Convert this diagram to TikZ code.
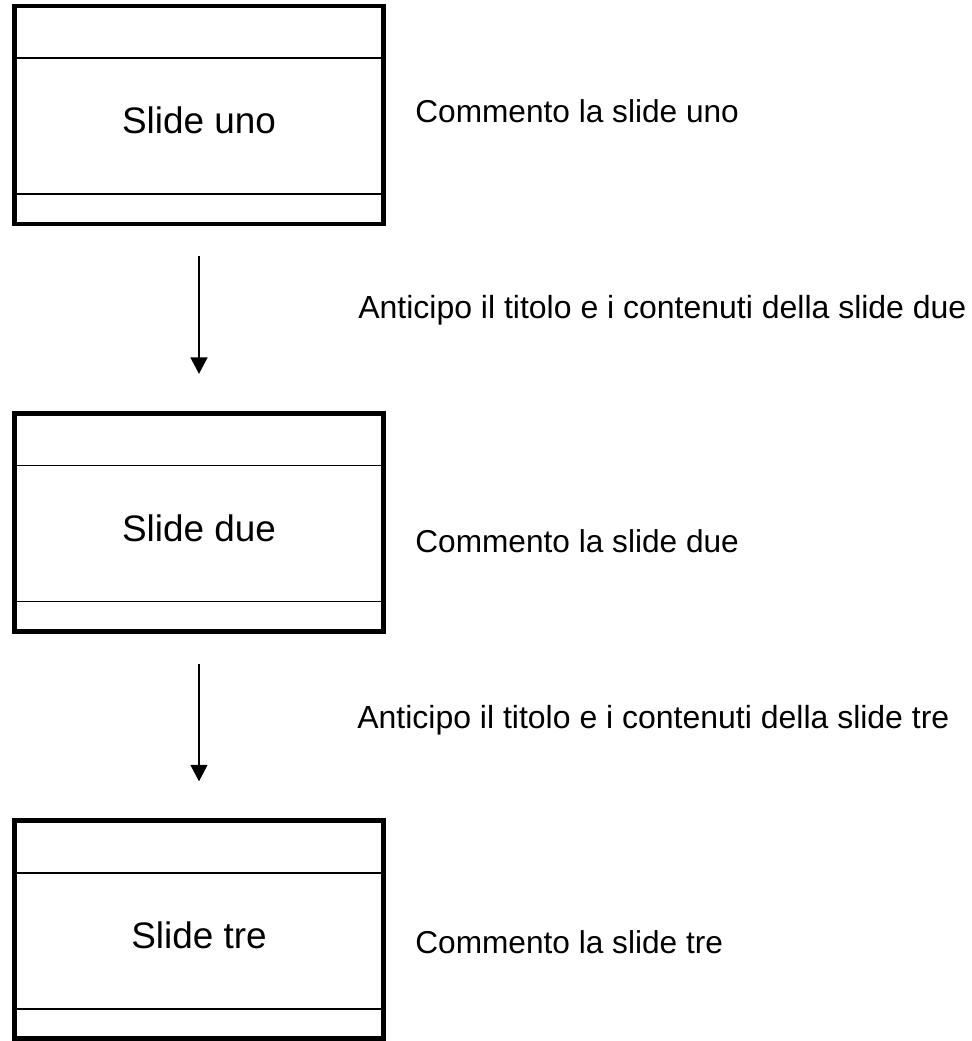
\documentclass[tikz,border=0pt]{standalone}
\usepackage{fontspec}
\setmainfont{Liberation Sans}
\usepackage{tikz}
\usetikzlibrary{arrows.meta, positioning}
\tikzstyle{slide} = [rectangle, minimum width=7.38cm, minimum height=4.36cm, draw=black, line width=2.8pt, text height=0.76cm, text depth=0cm, font=\fontsize{21}{25}\selectfont,
  path picture={\draw[line width=0.8pt] ([yshift=-1.04cm]path picture bounding box.north west) -- ([yshift=-1.04cm]path picture bounding box.north east);
                \draw[line width=0.8pt] ([yshift=0.6cm]path picture bounding box.south west) -- ([yshift=0.6cm]path picture bounding box.south east);}]
\tikzstyle{note} = [anchor=base west, inner sep=0pt, font=\fontsize{18}{22}\selectfont]
\tikzstyle{hint} = [anchor=base west, inner sep=0pt, font=\fontsize{18.2}{22}\selectfont]
\tikzstyle{arr} = [-{Triangle[length=0.33cm, width=0.33cm]}, line width=1.7pt, shorten <=0.6cm, shorten >=0.74cm]

\begin{document}
\begin{tikzpicture}
  \useasboundingbox (0,0) rectangle (19.42,-20.82);
  % slides
  \node[slide] (s1) at (3.98,-2.30) {Slide uno};
  \node[slide, below=3.69cm of s1] (s2) {Slide due};
  \node[slide, below=3.69cm of s2] (s3) {Slide tre};
  % comments
  \node[note] (c1) at (8.30,-2.45) {Commento la slide uno};
  \node[note] (c2) at (8.30,-11.05) {Commento la slide due};
  \node[note] (c3) at (8.30,-19.07) {Commento la slide tre};
  % transitions
  \node[hint] (a1) at (7.16,-6.36) {Anticipo il titolo e i contenuti della slide due};
  \node[hint] (a2) at (7.14,-14.56) {Anticipo il titolo e i contenuti della slide tre};
  \draw[arr] (s1.south) -- (s2.north);
  \draw[arr] (s2.south) -- (s3.north);
\end{tikzpicture}
\end{document}
